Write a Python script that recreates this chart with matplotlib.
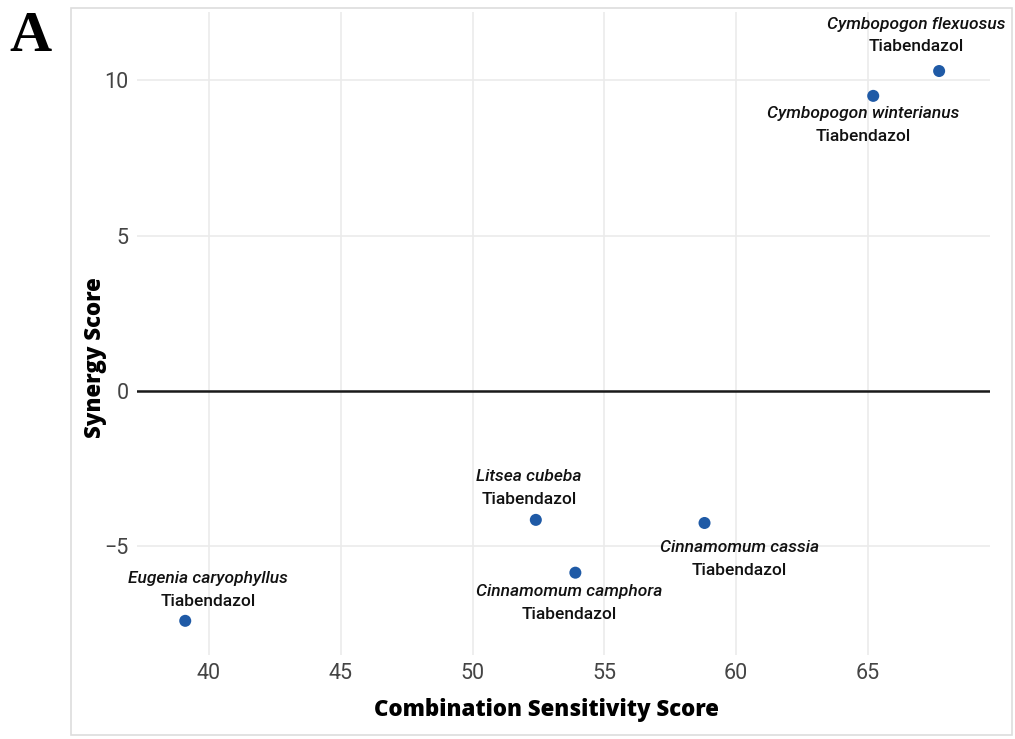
import matplotlib
matplotlib.use('Agg')
import matplotlib.pyplot as plt
from matplotlib.patches import Rectangle

# data
species = ['Cymbopogon flexuosus', 'Cymbopogon winterianus', 'Litsea cubeba',
           'Cinnamomum camphora', 'Cinnamomum cassia', 'Eugenia caryophyllus']
drug = 'Tiabendazol'
sensitivity = [67.7, 65.2, 52.4, 53.9, 58.8, 39.1]
synergy = [10.3, 9.5, -4.15, -5.85, -4.25, -7.4]
x_ticks = [40, 45, 50, 55, 60, 65]
y_ticks = [-5, 0, 5, 10]

# label offsets in pixels (dx, dy of species line, dy of drug line)
label_offsets = [(-23, 47, 25), (-10, -18, -41), (-7, 43, 20),
                 (-6, -19, -42), (35, -25, -48), (23, 42, 19)]

plt.rcParams['font.family'] = ['Roboto', 'DejaVu Sans']

fig = plt.figure(figsize=(10.15, 7.39), dpi=100)
ax = fig.add_axes([137 / 1015, 1 - 655 / 739, 853 / 1015, 643 / 739])

# outer frame
fig.patches.append(Rectangle((71 / 1015, 4 / 739), 941 / 1015, 727 / 739,
                             transform=fig.transFigure, fill=False,
                             edgecolor='#dddddd', lw=1.2))

ax.set_xlim(37.27, 69.63)
ax.set_ylim(-8.5, 12.2)
ax.set_xticks(x_ticks)
ax.set_yticks(y_ticks)
ax.grid(True, color='#ebebeb', lw=1.2)
ax.set_axisbelow(True)
for s in ax.spines.values():
    s.set_visible(False)
ax.tick_params(length=0, labelsize=15.5, labelcolor='#444444', pad=6)

ax.axhline(0, color='#1a1a1a', lw=1.8)

ax.scatter(sensitivity, synergy, s=75, color='#1f5aa6', zorder=3, edgecolors='none')

for name, xv, yv, off in zip(species, sensitivity, synergy, label_offsets):
    dx, dy1, dy2 = off
    ax.annotate(name, (xv, yv), xytext=(dx, dy1), textcoords='offset pixels',
                ha='center', va='center', fontsize=12.5, style='italic',
                fontweight='medium', color='#111111')
    ax.annotate(drug, (xv, yv), xytext=(dx, dy2), textcoords='offset pixels',
                ha='center', va='center', fontsize=12.5,
                fontweight='medium', color='#111111')

ax.set_xlabel('Combination Sensitivity Score', fontsize=16, fontweight='heavy',
              family='Open Sans', va='center')
ax.xaxis.set_label_coords(0.48, -0.086)
ax.set_ylabel('Synergy Score', fontsize=16, fontweight='heavy',
              family='Open Sans', va='center')
ax.yaxis.set_label_coords(-0.049, 0.463)

fig.text(9 / 1015, 1 - 37 / 739, 'A', fontsize=42, fontweight='bold',
         family='Liberation Serif', va='center', ha='left')

fig.savefig('out.png', dpi=100)
